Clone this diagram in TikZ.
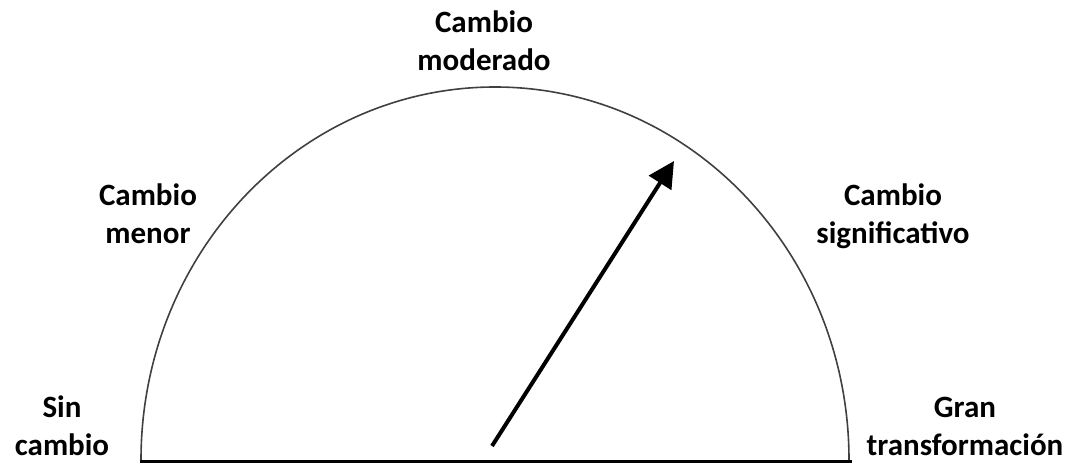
\documentclass[tikz,border=0pt]{standalone}
\usepackage{fontspec}
\setmainfont{Carlito}
\usetikzlibrary{arrows.meta}
\tikzset{
  lbl/.style={align=center, font=\fontsize{31}{38}\selectfont\bfseries, inner sep=0pt},
  dial/.style={line width=1.6pt, draw=black!75},
  base/.style={line width=3pt},
  needle/.style={line width=4pt, -{Triangle[length=26pt,width=26pt]}}
}
\begin{document}
\begin{tikzpicture}[x=1pt,y=1pt]
\useasboundingbox (0,0) rectangle (1070,463);
\coordinate (L) at (141,3);
\coordinate (R) at (849,3);
\coordinate (B0) at (140,1.5);
\coordinate (B1) at (852,1.5);
\draw[dial] (L) arc[start angle=180, end angle=0, x radius=354, y radius=373];
\draw[base] (B0) -- (B1);
\coordinate (tail) at (492,17);
\coordinate (tip) at (674,302);
\draw[needle] (tail) -- (tip);
\node[lbl] (mod) at (484,422) {Cambio\\moderado};
\node[lbl] (men) at (148,249) {Cambio\\menor};
\node[lbl] (sig) at (893,247) {Cambio\\significativo};
\node[lbl] (sin) at (62,37) {Sin\\cambio};
\node[lbl] (gran) at (965,37) {Gran\\transformación};
\end{tikzpicture}
\end{document}
